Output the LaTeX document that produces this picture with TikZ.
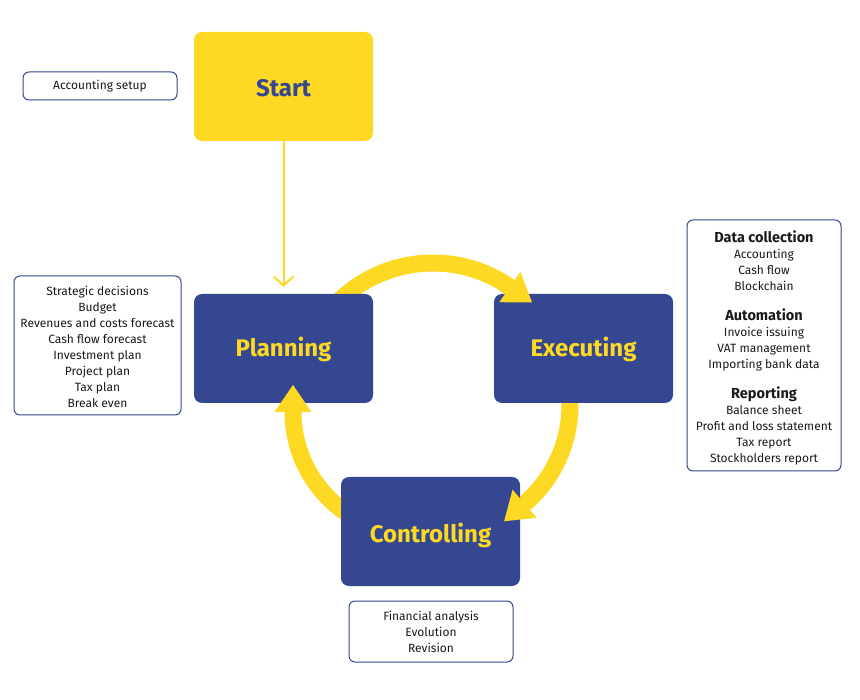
\documentclass[tikz,border=0pt]{standalone}
\usepackage{fontspec}
\setmainfont{Fira Sans}
\usetikzlibrary{calc,arrows.meta}
\definecolor{cyel}{HTML}{FDD923}
\definecolor{cblue}{HTML}{354791}
\definecolor{ctext}{HTML}{1A1A1A}
\newcommand{\hdr}{\fontsize{14.5}{16}\selectfont\bfseries}
\tikzset{
  bigbox/.style={fill=cblue, rounded corners=8pt, minimum width=179pt, minimum height=109pt,
    text=cyel, font=\fontsize{24}{28}\selectfont\bfseries, inner sep=0pt,
    text height=0pt, text depth=0pt},
  startbox/.style={bigbox, fill=cyel, text=cblue},
  listbox/.style={draw=cblue, line width=1pt, rounded corners=6pt, fill=white, align=center,
    text=ctext, font=\fontsize{12}{16}\selectfont, inner sep=0pt},
  band/.style={draw=cyel, line width=17pt, line cap=butt},
  head/.style={fill=cyel},
  thinarrow/.style={draw=cyel, line width=2pt, -{Straight Barb[length=9pt,width=20pt]}, shorten >=7pt}
}
\begin{document}
\begin{tikzpicture}[x=1pt,y=-1pt]
\useasboundingbox (0,0) rectangle (860,700);
\fill[white] (0,0) rectangle (860,700);
% circle centres for the three curved arrows
\coordinate (c1) at (433,398);
\coordinate (c2) at (440,405);
\coordinate (c3) at (415,412);
% bands
\draw[band] (c1) ++(215:135) arc[start angle=215, end angle=304.7, radius=135];
\draw[band] (c2) ++(-10:130) arc[start angle=-10, end angle=49.4, radius=130];
\draw[band] (c3) ++(118:122) arc[start angle=118, end angle=180, radius=122];
% boxes
\node[startbox] (start) at (283.5,86.5) {\raisebox{-10pt}{Start}};
\node[bigbox] (planning) at (283.5,348.5) {\raisebox{-8pt}{Planning}};
\node[bigbox] (executing) at (583.5,348.5) {\raisebox{-8pt}{Executing}};
\node[bigbox] (controlling) at (430.5,531.5) {\raisebox{-10.5pt}{Controlling}};
% heads
\fill[head] ($(c1)+(304.7:116.5)$) -- ($(c1)+(304.7:153.5)$) -- ($(c1)+(304.7:135)+(34.7:27)$) -- cycle;
\fill[head] ($(c2)+(49.4:111.5)$) -- ($(c2)+(49.4:148.5)$) -- ($(c2)+(49.4:130)+(139.4:27)$) -- cycle;
\fill[head] ($(c3)+(180:103.5)$) -- ($(c3)+(180:140.5)$) -- ($(c3)+(180:122)+(270:27)$) -- cycle;
% thin arrow
\draw[thinarrow] (start) -- (planning);
% lists
\node[listbox, minimum width=154pt, minimum height=28pt] (setup) at (100,86) {Accounting setup};
\node[listbox, minimum width=167pt, minimum height=139pt] (planlist) at (97.5,345.5)
  {\rule{0pt}{13pt}Strategic decisions\\Budget\\Revenues and costs forecast\\Cash flow forecast\\Investment plan\\Project plan\\Tax plan\\Break even};
\node[listbox, minimum width=154pt, minimum height=251pt] (execlist) at (764,345.5)
  {{\hdr\rule{0pt}{16pt}Data collection}\\Accounting\\Cash flow\\Blockchain\\[14pt]{\hdr Automation}\\Invoice issuing\\VAT management\\Importing bank data\\[14pt]{\hdr Reporting}\\Balance sheet\\Profit and loss statement\\Tax report\\Stockholders report};
\node[listbox, minimum width=164pt, minimum height=61pt] (ctrllist) at (431,631.5)
  {Financial analysis\\Evolution\\Revision};
\end{tikzpicture}
\end{document}
